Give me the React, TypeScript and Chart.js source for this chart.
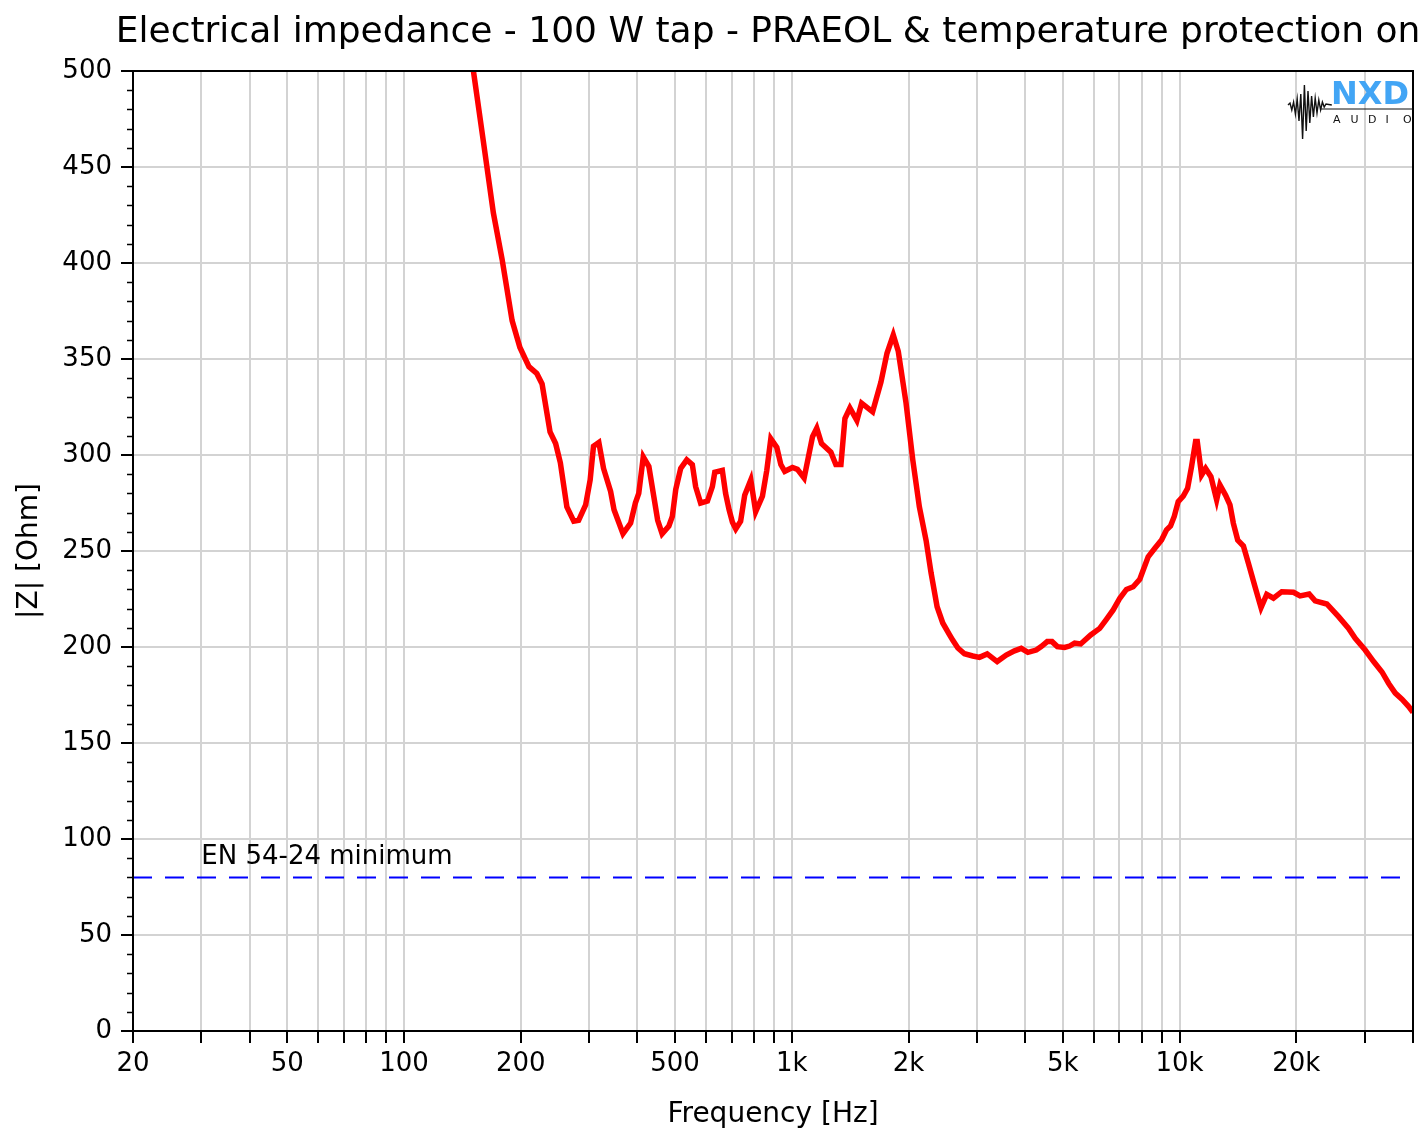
import React, { useEffect, useRef } from "react";
import { Chart, registerables } from "chart.js";

Chart.register(...registerables);

const FONT = "'DejaVu Sans', Verdana, sans-serif";

const titleText = "Electrical impedance - 100 W tap - PRAEOL & temperature protection on";
const xAxisTitle = "Frequency [Hz]";
const yAxisTitle = "|Z| [Ohm]";
const limitLabel = "EN 54-24 minimum";

const freqHz = [
  142, 151, 160, 170, 179, 190, 199, 210, 220, 227, 238, 246, 253, 263, 274, 282, 294, 302, 308, 318,
  327, 341, 348, 367, 384, 395, 403, 414, 428, 441, 451, 463, 482, 492, 502, 517, 536, 554, 565, 582,
  606, 624, 633, 662, 675, 689, 703, 717, 738, 756, 784, 807, 840, 862, 883, 915, 937, 959, 1004, 1034,
  1076, 1131, 1160, 1193, 1261, 1299, 1339, 1371, 1412, 1472, 1514, 1616, 1698, 1760, 1827, 1882, 1971, 2051, 2133, 2220,
  2287, 2370, 2451, 2550, 2602, 2681, 2788, 2930, 3048, 3191, 3386, 3573, 3753, 3906, 4064, 4270, 4398, 4559, 4690, 4840,
  5053, 5206, 5364, 5559, 5900, 6225, 6477, 6743, 7013, 7295, 7593, 7897, 8300, 8636, 8986, 9257, 9479, 9690, 9922, 10222,
  10489, 10740, 10999, 11110, 11399, 11674, 12048, 12464, 12711, 13149, 13490, 13766, 14125, 14611, 15051, 15655, 16223, 16783, 17465, 18350,
  19670, 20460, 21590, 22370, 23980, 25710, 27290, 28380, 30110, 31660, 33270, 34620, 36000, 37460, 38990, 40000,
];

const impedanceOhm = [
  532, 500, 464, 426, 402, 370, 356, 346, 342.5, 337, 312, 306, 296, 273, 265.5, 266, 274, 287, 304.5, 306.5,
  293, 281, 271.5, 259, 264.5, 275, 280, 299, 294, 278, 266, 259, 263, 268, 282, 293, 297.5, 295, 283.5, 275,
  276, 283.5, 291, 292, 280, 271.5, 265, 261.5, 265.5, 279, 287, 270.5, 278.5, 292, 308.5, 304, 295, 291.5, 293.5, 292.5,
  288, 309.5, 314, 306, 301.5, 295, 295, 319, 324.5, 318, 327, 322.5, 338, 353, 362.5, 354, 327, 297.5, 273, 255.5,
  238.5, 221, 212.5, 206.5, 203.5, 199.5, 196.5, 195.3, 194.6, 196.4, 192.4, 195.8, 198, 199.3, 197.2, 198.4, 200.2, 202.8, 202.8, 200.2,
  199.8, 200.5, 202, 201.6, 206.3, 209.7, 214.4, 219.3, 225.4, 230, 231.4, 235.3, 247, 251.4, 255.7, 261, 263, 268, 275.7, 278.6,
  282.6, 294, 307, 307, 289.6, 293, 288.7, 276.6, 284.4, 279, 274, 264.4, 255.7, 252.6, 243.6, 231.4, 220.5, 227.4, 225.4, 228.8,
  228.5, 226.6, 227.6, 224, 222.4, 215.8, 209.7, 204.5, 198.4, 192.4, 187, 181, 176, 172.8, 169, 166,
];

const limitFreq = [20, 40000];
const limitOhm = [80, 80];
const limitLabelFreq = 30;

const xTickValues = [
  20, 30, 40, 50, 60, 70, 80, 90,
  100, 200, 300, 400, 500, 600, 700, 800, 900,
  1000, 2000, 3000, 4000, 5000, 6000, 7000, 8000, 9000,
  10000, 20000, 30000, 40000,
];
const xLabelValues = [20, 50, 100, 200, 500, 1000, 2000, 5000, 10000, 20000];
const xLabelTexts = ["20", "50", "100", "200", "500", "1k", "2k", "5k", "10k", "20k"];

const yTickValues = [0, 50, 100, 150, 200, 250, 300, 350, 400, 450, 500];
const yMinorTicks = [
  10, 20, 30, 40, 60, 70, 80, 90, 110, 120, 130, 140, 160, 170, 180, 190, 210, 220, 230, 240,
  260, 270, 280, 290, 310, 320, 330, 340, 360, 370, 380, 390, 410, 420, 430, 440, 460, 470, 480, 490,
];

const logoWave = [2, 5, 3, 9, 6, 16, 11, 34, 20, 26, 14, 18, 9, 12, 7, 8, 5, 5, 3, 2, 1];

const decorPlugin = {
  id: "decor",
  afterDatasetsDraw(chart: any) {
    const { ctx, chartArea, scales } = chart;
    const x = scales.x;
    const y = scales.y;
    ctx.save();
    // frame
    ctx.strokeStyle = "#000";
    ctx.lineWidth = 2;
    ctx.strokeRect(chartArea.left, chartArea.top, chartArea.right - chartArea.left, chartArea.bottom - chartArea.top);
    // minor y ticks
    ctx.lineWidth = 1.5;
    ctx.beginPath();
    for (const v of yMinorTicks) {
      const py = Math.round(y.getPixelForValue(v)) + 0.5;
      ctx.moveTo(chartArea.left - 6, py);
      ctx.lineTo(chartArea.left, py);
    }
    ctx.stroke();
    // limit label
    ctx.fillStyle = "#000";
    ctx.font = `26px ${FONT}`;
    ctx.textAlign = "left";
    ctx.textBaseline = "alphabetic";
    ctx.fillText(limitLabel, x.getPixelForValue(limitLabelFreq), y.getPixelForValue(limitOhm[0]) - 13);
    // logo
    const lx = 1290;
    const ly = 105;
    ctx.strokeStyle = "#111";
    ctx.lineWidth = 1.4;
    ctx.beginPath();
    ctx.moveTo(lx - 2, ly);
    logoWave.forEach((a, i) => {
      const px = lx + i * 1.8;
      ctx.lineTo(px, ly + (i % 2 === 0 ? -a : a));
    });
    ctx.lineTo(lx + logoWave.length * 1.8 + 4, ly);
    ctx.stroke();
    ctx.beginPath();
    ctx.lineWidth = 1;
    ctx.moveTo(lx + 30, ly + 4);
    ctx.lineTo(chartArea.right, ly + 4);
    ctx.stroke();
    ctx.fillStyle = "#42a5f5";
    ctx.font = `900 32px ${FONT}`;
    ctx.textAlign = "left";
    ctx.fillText("NXD", 1331, 104);
    ctx.fillStyle = "#111";
    ctx.font = `11px ${FONT}`;
    const letters = "AUDIO";
    for (let i = 0; i < letters.length; i++) {
      ctx.fillText(letters[i], 1333 + i * 17.5, 123);
    }
    // title
    ctx.fillStyle = "#000";
    ctx.font = `36px ${FONT}`;
    ctx.textAlign = "center";
    ctx.fillText(titleText, 768, 42);
    ctx.restore();
  },
};

export default function App() {
  const canvasRef = useRef<HTMLCanvasElement | null>(null);

  useEffect(() => {
    if (!canvasRef.current) return;
    const chart = new Chart(canvasRef.current, {
      type: "line",
      data: {
        datasets: [
          {
            data: freqHz.map((f, i) => ({ x: f, y: impedanceOhm[i] })),
            borderColor: "#ff0000",
            borderWidth: 5.5,
            pointRadius: 0,
            tension: 0,
            fill: false,
            clip: 0,
          },
          {
            data: limitFreq.map((f, i) => ({ x: f, y: limitOhm[i] })),
            borderColor: "#0000ff",
            borderWidth: 2,
            borderDash: [19, 13],
            pointRadius: 0,
            fill: false,
          },
        ],
      },
      options: {
        animation: false,
        responsive: false,
        devicePixelRatio: 1,
        layout: { padding: { top: 71, right: 14, bottom: 0, left: 0 } },
        plugins: {
          legend: { display: false },
          tooltip: { enabled: false },
          title: { display: false },
        },
        scales: {
          x: {
            type: "logarithmic",
            min: 20,
            max: 40000,
            afterBuildTicks: (s: any) => {
              s.ticks = xTickValues.map((v) => ({ value: v }));
            },
            afterFit: (s: any) => {
              s.height = 103;
            },
            ticks: {
              autoSkip: false,
              maxRotation: 0,
              minRotation: 0,
              padding: 6,
              color: "#000",
              font: { family: FONT, size: 26 },
              callback: (v: any) => {
                const i = xLabelValues.indexOf(Number(v));
                return i >= 0 ? xLabelTexts[i] : "";
              },
            },
            grid: {
              color: "#d3d3d3",
              lineWidth: 2,
              tickLength: 12,
              tickColor: "#000",
              tickWidth: 2,
            },
            border: { color: "#000", width: 2 },
            title: {
              display: true,
              text: xAxisTitle,
              color: "#000",
              font: { family: FONT, size: 28 },
              padding: { top: 0, bottom: 2 },
            },
          },
          y: {
            type: "linear",
            min: 0,
            max: 500,
            afterBuildTicks: (s: any) => {
              s.ticks = yTickValues.map((v) => ({ value: v }));
            },
            afterFit: (s: any) => {
              s.width = 133;
            },
            ticks: {
              padding: 9,
              color: "#000",
              font: { family: FONT, size: 26 },
            },
            grid: {
              color: "#d3d3d3",
              lineWidth: 2,
              tickLength: 12,
              tickColor: "#000",
              tickWidth: 2,
            },
            border: { color: "#000", width: 2 },
            title: {
              display: true,
              text: yAxisTitle,
              color: "#000",
              font: { family: FONT, size: 28 },
              padding: { top: 13, bottom: 0 },
            },
          },
        },
      },
      plugins: [decorPlugin],
    });
    return () => chart.destroy();
  }, []);

  return (
    <div style={{ position: "absolute", left: 0, top: 0, width: 1427, height: 1134, background: "#fff" }}>
      <canvas ref={canvasRef} width={1427} height={1134} style={{ display: "block" }} />
    </div>
  );
}
